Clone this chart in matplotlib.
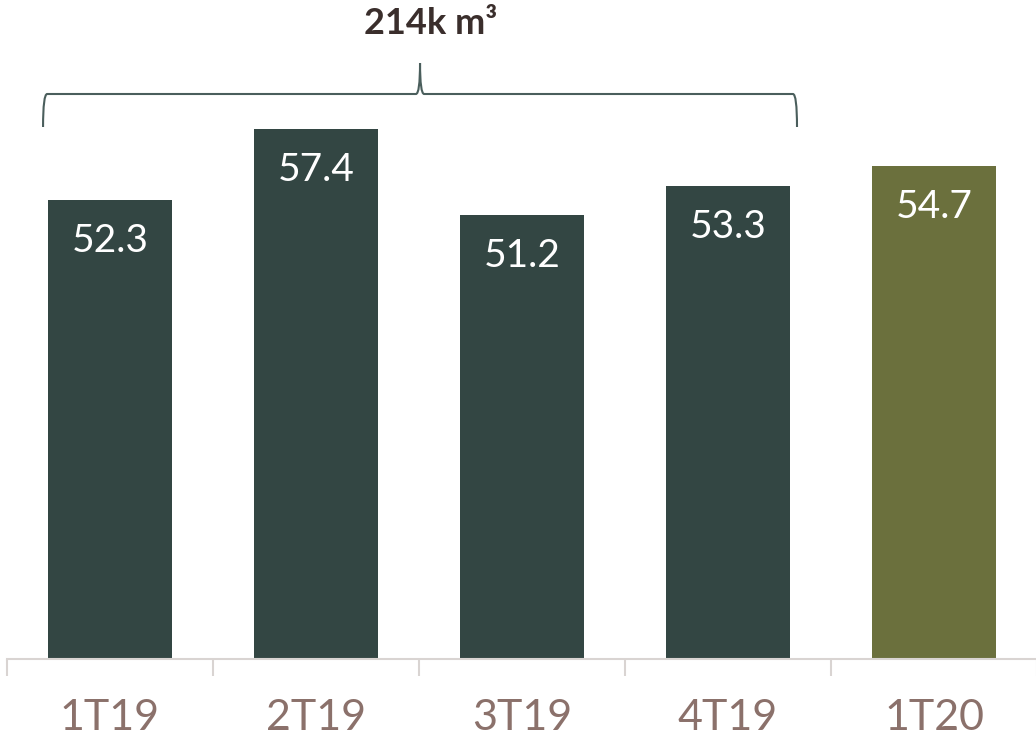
import numpy as np
import matplotlib.pyplot as plt
from matplotlib.path import Path
from matplotlib.patches import PathPatch
import matplotlib.transforms as mtransforms

plt.rcParams['font.family'] = ['Lato', 'DejaVu Sans']

categories = ['1T19', '2T19', '3T19', '4T19', '1T20']
values = [52.3, 57.4, 51.2, 53.3, 54.7]
colors = ['#334643', '#334643', '#334643', '#334643', '#6b703d']
brace_label = '214k m³'

fig = plt.figure(figsize=(10.36, 7.4), dpi=100)
ax = fig.add_axes([7 / 1036, 1 - 659 / 740, 1030 / 1036, 659 / 740])

x = np.arange(len(categories))
bars = ax.bar(x, values, width=0.6, color=colors, zorder=2)

ymin = 19.3
ax.set_ylim(ymin, ymin + 659 / 13.92)
ax.set_xlim(-0.5, len(categories) - 0.5)

for xi, v in zip(x, values):
    ax.annotate(f'{v:.1f}', (xi, v), xytext=(0, -41), textcoords='offset pixels',
                ha='center', va='center', color='white', fontsize=28)

# axis line and category separators
for s in ['top', 'right', 'left']:
    ax.spines[s].set_visible(False)
ax.spines['bottom'].set_color('#d9d4d2')
ax.spines['bottom'].set_linewidth(1.5)
ax.set_yticks([])
ax.set_xticks(np.arange(-0.5, len(categories)), minor=True)
ax.set_xticks(x)
ax.set_xticklabels(categories, fontsize=31, color='#8b716b')
ax.tick_params(axis='x', which='major', length=0, pad=29)
ax.tick_params(axis='x', which='minor', length=12, width=1.5, color='#d9d4d2')

# brace over the 2019 quarters
trans = mtransforms.blended_transform_factory(ax.transData, ax.transAxes)
x0, x1 = x[0] - 0.325, x[3] + 0.335
xm = (x0 + x1) / 2
yb, yl, yt = 1 - 127 / 659, 1 - 94 / 659, 1 - 63 / 659
c = 0.02
verts = [(x0, yb), (x0, yl), (x0 + c, yl), (xm - c, yl), (xm, yl), (xm, yt),
         (xm, yl), (xm + c, yl), (x1 - c, yl), (x1, yl), (x1, yb)]
codes = [Path.MOVETO, Path.CURVE3, Path.CURVE3, Path.LINETO, Path.CURVE3, Path.CURVE3,
         Path.CURVE3, Path.CURVE3, Path.LINETO, Path.CURVE3, Path.CURVE3]
ax.add_patch(PathPatch(Path(verts, codes), transform=trans, fill=False,
                       edgecolor='#4a5e5c', linewidth=1.5, clip_on=False))
ax.text(xm + 0.05, 1 - 23 / 659, brace_label, transform=trans, ha='center', va='center',
        fontsize=26, fontweight='bold', color='#3a2e2c')

fig.savefig('out.png', dpi=100)
